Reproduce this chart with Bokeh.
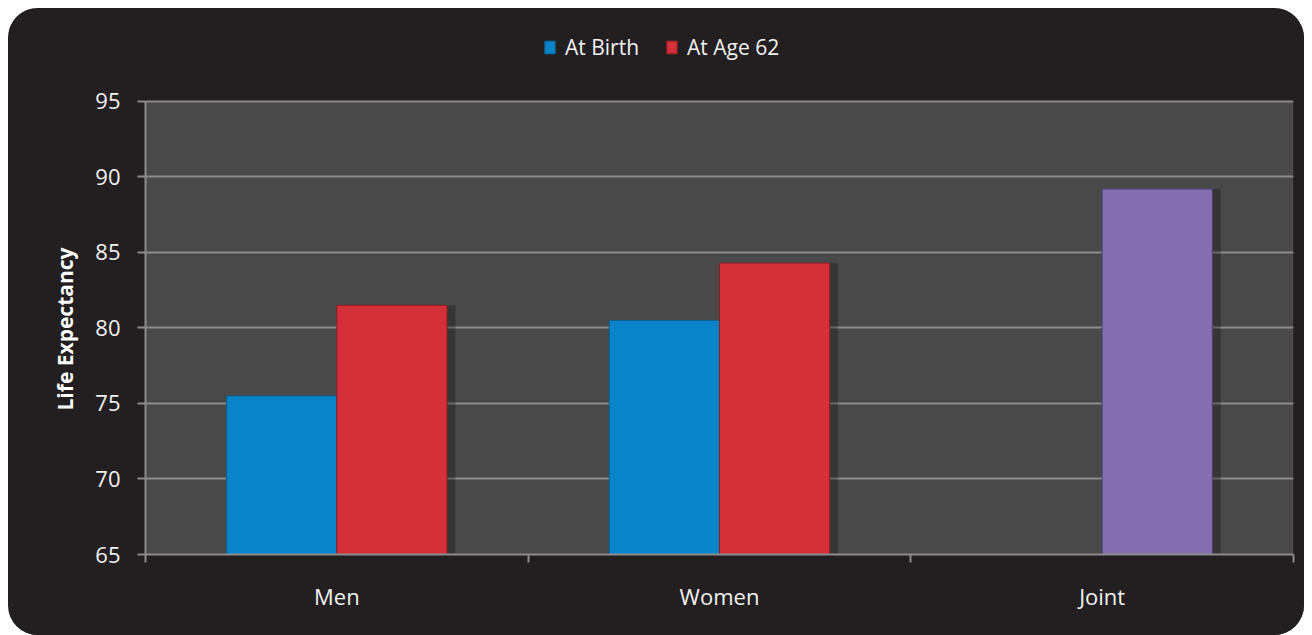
from bokeh.plotting import figure
from bokeh.models import (ColumnDataSource, Range1d, LinearAxis, BoxAnnotation, Title,
                          FixedTicker, Legend, LegendItem, CDSView, IndexFilter)
from bokeh.transform import dodge
from bokeh.embed import file_html
from bokeh.resources import INLINE

categories = ["Men", "Women", "Joint"]
at_birth = [75.5, 80.5, float("nan")]
at_age_62 = [81.5, 84.3, 89.2]
series_names = ["At Birth", "At Age 62"]
y_title = "Life Expectancy"
y_ticks = [65, 70, 75, 80, 85, 90, 95]
y_min, y_max = 65, 95

BG = "#231f20"
PLOT_BG = "#4a4949"
GRID = "#8c8c8c"
BLUE = "#0a84c9"
RED = "#d3303a"
PURPLE = "#8470b0"
FONT = "Open Sans"

n = len(categories)
centers = [i + 0.5 for i in range(n)]
src = ColumnDataSource(dict(x=centers, cat=categories, birth=at_birth, age62=at_age_62))

# frame extends above the value area to host the legend row
p = figure(x_range=Range1d(0, n), y_range=Range1d(y_min, 99.7),
           width=1296, height=627, output_backend="svg", toolbar_location=None,
           x_axis_location=None, y_axis_location="left")
p.styles = {"margin-top": "8px", "margin-left": "8px", "border-radius": "30px",
            "overflow": "hidden", "background-color": BG}
p.background_fill_color = BG
p.border_fill_color = BG
p.outline_line_color = None
p.min_border_left = 137
p.min_border_right = 11
p.min_border_top = 22
p.min_border_bottom = 81

p.add_layout(BoxAnnotation(bottom=y_min, top=y_max, fill_color=PLOT_BG, fill_alpha=1,
                           line_color=None, level="image"))

W = 0.288
shadow_kw = dict(fill_color="black", fill_alpha=0.25, line_color=None)
p.vbar(x=dodge("x", -W / 2 + 0.022), top="birth", bottom=y_min, width=W, source=src, **shadow_kw)
p.vbar(x=dodge("x", W / 2 + 0.022), top="age62", bottom=y_min, width=W, source=src, **shadow_kw)

r_birth = p.vbar(x=dodge("x", -W / 2), top="birth", bottom=y_min, width=W,
                 source=src, fill_color=BLUE, line_color="#0a5f90", line_width=1)
r_62 = p.vbar(x=dodge("x", W / 2), top="age62", bottom=y_min, width=W,
              source=src, view=CDSView(filter=IndexFilter([0, 1])),
              fill_color=RED, line_color="#8a1f25", line_width=1)
p.vbar(x=dodge("x", W / 2), top="age62", bottom=y_min, width=W,
       source=src, view=CDSView(filter=IndexFilter([2])),
       fill_color=PURPLE, line_color="#4f3f78", line_width=1)

# y axis
yax = p.yaxis[0]
yax.ticker = FixedTicker(ticks=y_ticks)
yax.bounds = (y_min, y_max)
yax.axis_line_color = GRID
yax.axis_line_width = 2
yax.major_tick_line_color = GRID
yax.major_tick_line_width = 2
yax.major_tick_out = 8
yax.major_tick_in = 0
yax.minor_tick_line_color = None
yax.major_label_text_color = "#f2f2f2"
yax.major_label_text_font = FONT
yax.major_label_text_font_size = "22px"
yax.major_label_standoff = 17

p.add_layout(Title(text=y_title, align="left", offset=144, standoff=28,
                   text_color="white", text_font=FONT, text_font_style="bold",
                   text_font_size="21px"), "left")

p.ygrid.ticker = FixedTicker(ticks=y_ticks)
p.ygrid.grid_line_color = GRID
p.ygrid.grid_line_width = 2
p.xgrid.grid_line_color = None

# separator ticks axis
sep = LinearAxis(ticker=FixedTicker(ticks=list(range(n + 1))))
sep.axis_line_color = GRID
sep.axis_line_width = 2
sep.major_tick_line_color = GRID
sep.major_tick_line_width = 2
sep.major_tick_out = 8
sep.major_tick_in = 0
sep.minor_tick_line_color = None
sep.major_label_text_font_size = "0px"
sep.major_label_text_alpha = 0
sep.major_label_standoff = 0
p.add_layout(sep, "below")

cax = LinearAxis(ticker=FixedTicker(ticks=centers),
                 major_label_overrides={c: lab for c, lab in zip(centers, categories)})
cax.axis_line_color = None
cax.major_tick_line_color = None
cax.minor_tick_line_color = None
cax.major_label_text_color = "#f2f2f2"
cax.major_label_text_font = FONT
cax.major_label_text_font_size = "22px"
cax.major_label_standoff = 12
p.add_layout(cax, "below")

legend = Legend(items=[LegendItem(label=series_names[0], renderers=[r_birth]),
                       LegendItem(label=series_names[1], renderers=[r_62])],
                orientation="horizontal", location=(398, 493),
                background_fill_alpha=0, border_line_color=None,
                label_text_color="#f2f2f2", label_text_font=FONT, label_text_font_size="21px",
                glyph_width=13, glyph_height=16, spacing=26, label_standoff=9,
                margin=0, padding=0)
p.add_layout(legend, "center")

open("out.html", "w").write(file_html(p, INLINE))
